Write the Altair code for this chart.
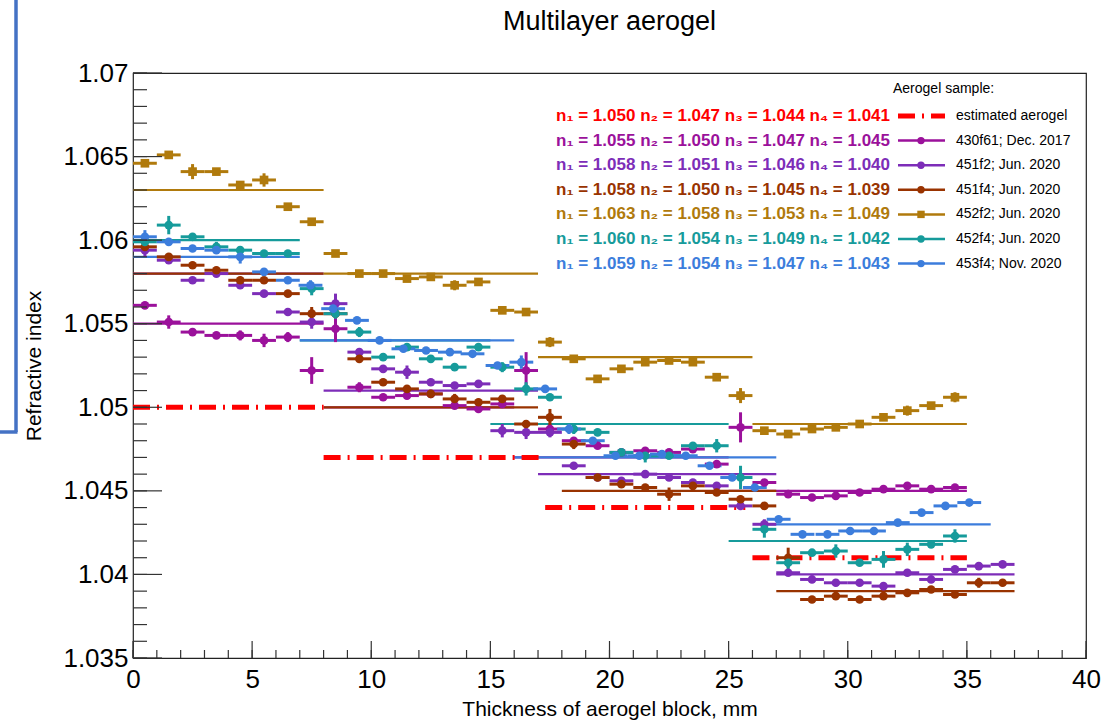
import altair as alt
import pandas as pd

# ---------------------------------------------------------------- axes
X_DOMAIN = [0, 40]
Y_DOMAIN = [1.035, 1.07]
X_MAJOR = [0, 5, 10, 15, 20, 25, 30, 35, 40]
X_MINOR = list(range(0, 41))
Y_MAJOR = [1.035, 1.04, 1.045, 1.05, 1.055, 1.06, 1.065, 1.07]
Y_MINOR = [round(1.035 + 0.001 * k, 3) for k in range(36)]

# ---------------------------------------------------------------- samples
SAMPLES = ["estimated aerogel", "430f61; Dec. 2017", "451f2; Jun. 2020",
           "451f4; Jun. 2020", "452f2; Jun. 2020", "452f4; Jun. 2020",
           "453f4; Nov. 2020"]
COLORS = ["#ff0000", "#9b119b", "#7d2db8", "#993300", "#b07a0c", "#169b9b", "#3c7ddc"]
SHAPES = ["circle", "circle", "circle", "circle", "square", "circle", "circle"]

# layer indices n1..n4 and layer extents along the block (mm)
N_EST = [1.050, 1.047, 1.044, 1.041]
L_EST = [(0, 8), (8, 17.3), (17.3, 25.7), (26, 35)]
N_430F61 = [1.055, 1.050, 1.047, 1.045]
L_430F61 = [(0, 8), (8, 16), (16, 25), (25, 35)]
N_451F2 = [1.058, 1.051, 1.046, 1.040]
L_451F2 = [(0, 8), (8, 17), (17, 27), (27, 37)]
N_451F4 = [1.058, 1.050, 1.045, 1.039]
L_451F4 = [(0, 8), (8, 17), (18, 27), (27, 37)]
N_452F2 = [1.063, 1.058, 1.053, 1.049]
L_452F2 = [(0, 8), (8, 17), (17, 26), (26, 35)]
N_452F4 = [1.060, 1.054, 1.049, 1.042]
L_452F4 = [(0, 7), (7, 15), (15, 25), (25, 35)]
N_453F4 = [1.059, 1.054, 1.047, 1.043]
L_453F4 = [(0, 7), (7, 16), (16, 27), (26.7, 36)]

# measured points: slice centre (mm), index, index error
X_35 = [0.5, 1.5, 2.5, 3.5, 4.5, 5.5, 6.5, 7.5, 8.5, 9.5, 10.5, 11.5, 12.5, 13.5,
        14.5, 15.5, 16.5, 17.5, 18.5, 19.5, 20.5, 21.5, 22.5, 23.5, 24.5, 25.5,
        26.5, 27.5, 28.5, 29.5, 30.5, 31.5, 32.5, 33.5, 34.5]
X_37 = X_35 + [35.5, 36.5]

Y_430F61 = [1.0561, 1.0551, 1.0545, 1.0543, 1.0543, 1.0540, 1.0542, 1.0522,
            1.0547, 1.0512, 1.0506, 1.0507, 1.0508, 1.0501, 1.0499, 1.0502,
            1.0522, 1.0487, 1.0480, 1.0477, 1.0473, 1.0474, 1.0473, 1.0475, 1.0466,
            1.0488, 1.0455, 1.0448, 1.0446, 1.0447, 1.0449, 1.0451, 1.0453, 1.0451, 1.0452]
E_430F61 = [0.0002, 0.0004, 0.0002, 0.0002, 0.0003, 0.0004, 0.0003, 0.0008,
            0.0008, 0.0003, 0.0002, 0.0002, 0.0002, 0.0002, 0.0002, 0.0002,
            0.0011, 0.0003, 0.0002, 0.0002, 0.0002, 0.0002, 0.0002, 0.0002, 0.0002,
            0.0009, 0.0002, 0.0002, 0.0002, 0.0002, 0.0002, 0.0002, 0.0002, 0.0002, 0.0002]

Y_451F2 = [1.0594, 1.0588, 1.0576, 1.0580, 1.0573, 1.0568, 1.0557, 1.0551,
           1.0562, 1.0533, 1.0523, 1.0521, 1.0515, 1.0513, 1.0514, 1.0486, 1.0485,
           1.0485, 1.0465, 1.0458, 1.0456, 1.0460, 1.0458, 1.0455, 1.0453, 1.0441, 1.0430,
           1.0401, 1.0397, 1.0395, 1.0395, 1.0393, 1.0401, 1.0397, 1.0403, 1.0405, 1.0406]
E_451F2 = [0.0004, 0.0002, 0.0002, 0.0002, 0.0002, 0.0002, 0.0002, 0.0004,
           0.0006, 0.0002, 0.0002, 0.0004, 0.0002, 0.0002, 0.0002, 0.0004, 0.0004,
           0.0003, 0.0002, 0.0002, 0.0002, 0.0002, 0.0002, 0.0002, 0.0002, 0.0002, 0.0003,
           0.0002, 0.0002, 0.0002, 0.0002, 0.0002, 0.0002, 0.0002, 0.0002, 0.0002, 0.0002]

Y_451F4 = [1.0596, 1.0590, 1.0585, 1.0582, 1.0576, 1.0576, 1.0568, 1.0556,
           1.0556, 1.0529, 1.0515, 1.0511, 1.0508, 1.0505, 1.0503, 1.0505, 1.0490,
           1.0494,
           1.0478, 1.0458, 1.0454, 1.0452, 1.0448, 1.0453, 1.0449, 1.0445, 1.0441,
           1.0410, 1.0385, 1.0387, 1.0385, 1.0387, 1.0389, 1.0391, 1.0388, 1.0395, 1.0395]
E_451F4 = [0.0002, 0.0002, 0.0002, 0.0002, 0.0002, 0.0002, 0.0002, 0.0004,
           0.0002, 0.0002, 0.0002, 0.0002, 0.0002, 0.0003, 0.0002, 0.0002, 0.0002,
           0.0005,
           0.0003, 0.0002, 0.0002, 0.0002, 0.0004, 0.0002, 0.0002, 0.0002, 0.0002,
           0.0006, 0.0002, 0.0002, 0.0002, 0.0002, 0.0002, 0.0002, 0.0002, 0.0003, 0.0002]

Y_452F2 = [1.0646, 1.0651, 1.0641, 1.0641, 1.0633, 1.0636, 1.0620, 1.0611,
           1.0592, 1.0580, 1.0580, 1.0577, 1.0578, 1.0573, 1.0575, 1.0558, 1.0557,
           1.0539, 1.0529, 1.0517, 1.0523, 1.0527, 1.0528, 1.0527, 1.0518, 1.0507,
           1.0486, 1.0484, 1.0487, 1.0488, 1.0490, 1.0494, 1.0498, 1.0501, 1.0506]
E_452F2 = [0.0002, 0.0002, 0.00045, 0.0002, 0.0002, 0.0004, 0.0002, 0.0002,
           0.0002, 0.0002, 0.0002, 0.0002, 0.0002, 0.0003, 0.0002, 0.0002, 0.0002,
           0.0003, 0.0002, 0.0002, 0.0002, 0.0002, 0.0002, 0.0002, 0.0002, 0.00045,
           0.0002, 0.0002, 0.0002, 0.0002, 0.0002, 0.0002, 0.0003, 0.0002, 0.0003]

Y_452F4 = [1.0599, 1.0609, 1.0602, 1.0596, 1.0594, 1.0592, 1.0592,
           1.0571, 1.0556, 1.0545, 1.0530, 1.0536, 1.0529, 1.0524, 1.0536,
           1.0524, 1.0511, 1.0506, 1.0487, 1.0485, 1.0473, 1.0471, 1.0471, 1.0477, 1.0477,
           1.0458, 1.0427, 1.0407, 1.0413, 1.0414, 1.0407, 1.0409, 1.0415, 1.0418, 1.0423]
E_452F4 = [0.0002, 0.00055, 0.0002, 0.0003, 0.0002, 0.0002, 0.0002,
           0.0004, 0.0003, 0.0003, 0.0002, 0.0002, 0.0002, 0.0002, 0.0002,
           0.0003, 0.0004, 0.0002, 0.0003, 0.0002, 0.0002, 0.0004, 0.0002, 0.0002, 0.0004,
           0.0007, 0.0005, 0.0005, 0.0002, 0.0004, 0.0002, 0.0005, 0.0004, 0.0002, 0.0004]

X_453F4 = [0.5, 1.5, 2.5, 3.5, 4.5, 5.5, 6.5, 7.45, 8.4, 9.4, 10.35, 11.35, 12.3,
           13.3, 14.25, 15.3, 16.3, 17.3, 18.3, 19.3, 20.25, 21.25, 22.2, 23.2, 24.2,
           25.15, 26.1, 27.1, 28.1, 29.15, 30.1, 31.1, 32.1, 33.1, 34.1, 35.1]
Y_453F4 = [1.0602, 1.0599, 1.0595, 1.0594, 1.0590, 1.0581, 1.0576,
           1.0573, 1.0559, 1.0552, 1.0540, 1.0535, 1.0534, 1.0533, 1.0532, 1.0525,
           1.0527, 1.0511, 1.0487, 1.0480, 1.0471, 1.0471, 1.0472, 1.0471, 1.0465, 1.0458, 1.0452,
           1.0433, 1.0424, 1.0424, 1.0426, 1.0426, 1.0431, 1.0437, 1.0441, 1.0443]
E_453F4 = [0.0004, 0.0002, 0.0002, 0.0002, 0.0004, 0.0002, 0.0002,
           0.0003, 0.0002, 0.0002, 0.0002, 0.0002, 0.0002, 0.0002, 0.0002, 0.0002,
           0.0004, 0.0002, 0.0003, 0.0002, 0.0002, 0.0002, 0.0002, 0.0002, 0.0002, 0.0002, 0.0002,
           0.0002, 0.0002, 0.0002, 0.0002, 0.0002, 0.0002, 0.0002, 0.0002, 0.0002]

MEASURED = [
    (SAMPLES[1], X_35, Y_430F61, E_430F61, N_430F61, L_430F61),
    (SAMPLES[2], X_37, Y_451F2, E_451F2, N_451F2, L_451F2),
    (SAMPLES[3], X_37, Y_451F4, E_451F4, N_451F4, L_451F4),
    (SAMPLES[4], X_35, Y_452F2, E_452F2, N_452F2, L_452F2),
    (SAMPLES[5], X_35, Y_452F4, E_452F4, N_452F4, L_452F4),
    (SAMPLES[6], X_453F4, Y_453F4, E_453F4, N_453F4, L_453F4),
]

# ---------------------------------------------------------------- tables
pts_rows, lay_rows = [], []
for name, xs_, ys_, es_, ns_, ls_ in MEASURED:
    for x, y, e in zip(xs_, ys_, es_):
        pts_rows.append(dict(sample=name, x=x, y=y, xlo=x - 0.5, xhi=x + 0.5,
                             ylo=y - e, yhi=y + e))
    for (a, b), n in zip(ls_, ns_):
        lay_rows.append(dict(sample=name, x0=a, x1=b, n=n))
points = pd.DataFrame(pts_rows)
layers = pd.DataFrame(lay_rows)
est = pd.DataFrame([dict(sample=SAMPLES[0], x0=a, x1=b, n=n) for (a, b), n in zip(L_EST, N_EST)])

# ---------------------------------------------------------------- geometry
W, H = 953, 585
PAD = dict(left=133, top=73, right=33, bottom=63)
FONT = "Liberation Sans"
DASHDOT = [17, 7, 2, 7]


def px_x(p):
    return X_DOMAIN[0] + (X_DOMAIN[1] - X_DOMAIN[0]) * p / W


def px_y(p):
    return Y_DOMAIN[1] - (Y_DOMAIN[1] - Y_DOMAIN[0]) * p / H


xscale = alt.Scale(domain=X_DOMAIN, nice=False, zero=False)
yscale = alt.Scale(domain=Y_DOMAIN, nice=False, zero=False)
xaxis = alt.Axis(values=X_MAJOR, format="d", title="Thickness of aerogel block, mm",
                 ticks=False, domain=False, grid=False, labelFontSize=26,
                 labelPadding=8, labelFlush=False, labelOverlap=False, labelColor="#000",
                 titleFontSize=21, titleFontWeight="normal", titleColor="#000",
                 titleX=W / 2, titleY=57, titleAlign="center", titleBaseline="alphabetic")
yaxis = alt.Axis(values=Y_MAJOR, format=".3~f", title="Refractive index",
                 ticks=False, domain=False, grid=False, labelFontSize=26,
                 labelPadding=5, labelFlush=False, labelOverlap=False, labelColor="#000",
                 titleFontSize=21, titleFontWeight="normal", titleColor="#000",
                 titleX=-93, titleY=H / 2, titleAngle=270, titleAlign="center",
                 titleBaseline="alphabetic")


def X(f):
    return alt.X(f, type="quantitative", scale=xscale, axis=xaxis)


def Y(f):
    return alt.Y(f, type="quantitative", scale=yscale, axis=yaxis)


color = alt.Color("sample:N", scale=alt.Scale(domain=SAMPLES, range=COLORS), legend=None)
shape = alt.Shape("sample:N", scale=alt.Scale(domain=SAMPLES, range=SHAPES), legend=None)

# layer averages
layer_lines = alt.Chart(layers).mark_rule(strokeWidth=2.2).encode(
    x=X("x0"), x2="x1", y=Y("n"), color=color)
est_lines = alt.Chart(est).mark_rule(strokeWidth=5, strokeDash=DASHDOT, color="#ff0000").encode(
    x=X("x0"), x2="x1", y=Y("n"))

# measured slices
h_err = alt.Chart(points).mark_rule(strokeWidth=3).encode(
    x=X("xlo"), x2="xhi", y=Y("y"), color=color)
v_err = alt.Chart(points).mark_rule(strokeWidth=3).encode(
    x=X("x"), y=Y("ylo"), y2="yhi", color=color)
markers = alt.Chart(points).mark_point(filled=True, opacity=1, size=75, strokeWidth=0).encode(
    x=X("x"), y=Y("y"), color=color, shape=shape)

# inward ticks on the left and bottom edges
ty_minor = alt.Chart(pd.DataFrame({"v": Y_MINOR})).mark_rule(color="#333", strokeWidth=1.2).encode(
    y=Y("v"), x=alt.value(0), x2=alt.value(14))
ty_major = alt.Chart(pd.DataFrame({"v": Y_MAJOR})).mark_rule(color="#333", strokeWidth=1.2).encode(
    y=Y("v"), x=alt.value(0), x2=alt.value(29))
tx_minor = alt.Chart(pd.DataFrame({"v": X_MINOR})).mark_rule(color="#333", strokeWidth=1.2).encode(
    x=X("v"), y=alt.value(H), y2=alt.value(H - 8))
tx_major = alt.Chart(pd.DataFrame({"v": X_MAJOR})).mark_rule(color="#333", strokeWidth=1.2).encode(
    x=X("v"), y=alt.value(H), y2=alt.value(H - 17))

# legend block
NS = [N_EST] + [m[4] for m in MEASURED]
leg = pd.DataFrame({
    "sample": SAMPLES,
    "ntext": ["n\u2081 = {:.3f} n\u2082 = {:.3f} n\u2083 = {:.3f} n\u2084 = {:.3f}".format(*n) for n in NS],
})
leg["ly"] = [px_y(43 + 24.6 * i) for i in range(len(leg))]
leg["tx"] = px_x(757)
leg["sx0"] = px_x(765)
leg["sx1"] = px_x(812)
leg["sm"] = px_x(788)
leg["lx"] = px_x(823)
leg_meas = leg.iloc[1:]
leg_est = leg.iloc[:1]

leg_head = alt.Chart(pd.DataFrame({"t": ["Aerogel sample:"], "x": [px_x(760)], "y": [px_y(16)]})).mark_text(
    align="left", baseline="middle", fontSize=14, color="#000").encode(
    x=X("x"), y=Y("y"), text="t:N")
leg_ntext = alt.Chart(leg).mark_text(align="right", baseline="middle", fontSize=17,
                                     fontWeight="bold").encode(
    x=X("tx"), y=Y("ly"), text="ntext:N", color=color)
leg_label = alt.Chart(leg).mark_text(align="left", baseline="middle", fontSize=14,
                                     color="#000").encode(
    x=X("lx"), y=Y("ly"), text="sample:N")
leg_line = alt.Chart(leg_meas).mark_rule(strokeWidth=2.5).encode(
    x=X("sx0"), x2="sx1", y=Y("ly"), color=color)
leg_mark = alt.Chart(leg_meas).mark_point(filled=True, opacity=1, size=55, strokeWidth=0).encode(
    x=X("sm"), y=Y("ly"), color=color, shape=shape)
leg_dash = alt.Chart(leg_est).mark_rule(strokeWidth=5, strokeDash=DASHDOT, color="#ff0000").encode(
    x=X("sx0"), x2="sx1", y=Y("ly"))

# chart title, centred over the frame
one = pd.DataFrame({"k": [0]})
title = alt.Chart(one).mark_text(text="Multilayer aerogel", fontSize=27, align="center",
                                 baseline="middle", color="#000").encode(
    x=alt.value(W / 2), y=alt.value(-51))

# slide bracket at the left edge
bracket_v = alt.Chart(one).mark_rule(color="#4472c4", strokeWidth=3.5).encode(
    x=alt.value(-117), y=alt.value(-73), y2=alt.value(359))
bracket_h = alt.Chart(one).mark_rule(color="#4472c4", strokeWidth=3.5).encode(
    x=alt.value(-133), x2=alt.value(-115.5), y=alt.value(359))

chart = alt.layer(
    layer_lines, est_lines, h_err, v_err, markers,
    ty_minor, ty_major, tx_minor, tx_major,
    leg_head, leg_ntext, leg_label, leg_line, leg_dash, leg_mark,
    title, bracket_v, bracket_h,
).properties(
    width=W, height=H,
    autosize=alt.AutoSizeParams(type="none"),
    padding=PAD,
).configure(font=FONT, background="white").configure_view(stroke="#222", strokeWidth=1.2)

chart.save("out.html", embed_options={"renderer": "svg", "actions": False})
